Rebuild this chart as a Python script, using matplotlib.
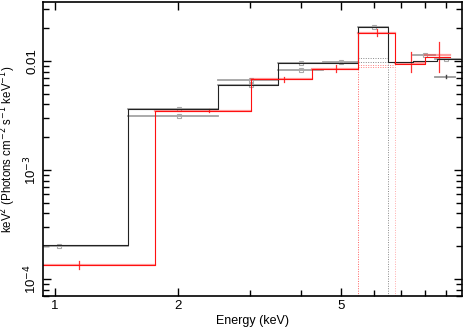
import matplotlib
matplotlib.use("Agg")
import matplotlib.pyplot as plt
import numpy as np
from matplotlib.ticker import FixedLocator, NullFormatter, FixedFormatter

plt.rcParams['font.family'] = ['Liberation Sans', 'DejaVu Sans']

# ---- data ----
# black model steps
k_edges = [0.935, 1.51, 2.505, 3.51, 5.50, 6.51, 7.50, 8.56, 9.87]
k_vals = [2.07e-4, 3.6e-3, 5.98e-3, 9.53e-3, 2.064e-2, 9.85e-3, 1.006e-2, 1.043e-2]

# gray data points (x, y, xlo, xhi)
g_x = [1.023, 2.008, 2.008, 3.004, 3.004, 4.00, 4.00, 5.01, 6.01, 8.01, 9.04]
g_y = [2.02e-4, 3.6e-3, 3.13e-3, 6.76e-3, 5.98e-3, 8.27e-3, 9.53e-3, 9.73e-3, 2.064e-2, 1.135e-2, 1.036e-2]
g_lo = [0.935, 1.51, 1.51, 2.505, 2.505, 3.51, 3.51, 4.52, 5.50, 7.50, 8.47]
g_hi = [1.51, 2.505, 2.505, 3.51, 3.51, 4.52, 5.50, 5.50, 6.51, 8.47, 9.74]

# dark extra point
d_x = [9.04]
d_y = [7.18e-3]
d_lo = [8.47]
d_hi = [9.48]

# red model steps
r_edges = [0.935, 1.76, 3.004, 4.25, 5.50, 6.76, 8.01, 9.21]
r_vals = [1.344e-4, 3.515e-3, 6.79e-3, 8.45e-3, 1.818e-2, 9.39e-3, 1.081e-2]

# red data points
r_x = [1.146, 2.38, 3.63, 4.87, 6.13, 7.39, 8.66]
r_y = [1.344e-4, 3.515e-3, 6.79e-3, 8.45e-3, 1.818e-2, 9.5e-3, 1.135e-2]
r_ylo = [1.23e-4, 3.4e-3, 6.4e-3, 7.9e-3, 1.7e-2, 7.9e-3, 7.9e-3]
r_yhi = [1.47e-4, 3.65e-3, 7.2e-3, 9.1e-3, 1.95e-2, 1.22e-2, 1.5e-2]
r_lo = [0.935, 1.76, 3.004, 4.25, 5.50, 6.76, 8.01]
r_hi = [1.76, 3.004, 4.25, 5.50, 6.76, 8.01, 9.21]

# line components (dotted)
kg_edges = [5.50, 6.51]
kg_vals = [1.059e-2, 9.85e-3]
rg_edges = [5.50, 6.76]
rg_vals = [9.19e-3, 8.87e-3]

YMIN, YMAX = 6.98e-5, 0.0348
XMIN, XMAX = 0.935, 9.87

fig = plt.figure(figsize=(4.63, 3.27), dpi=100)
ax = fig.add_axes([43/463, 31/327, 419/463, 294/327])
ax.set_xscale('log')
ax.set_yscale('log')

def step(ax, edges, vals, **kw):
    xs = []
    ys = []
    for i, v in enumerate(vals):
        xs += [edges[i], edges[i+1]]
        ys += [v, v]
    ax.plot(xs, ys, **kw)

# gaussian components
for val in kg_vals:
    ax.plot(kg_edges, [val, val], ls=(0, (1, 1.5)), color='#888888', lw=0.7)
for val in rg_vals:
    ax.plot(rg_edges, [val, val], ls=(0, (1, 1.5)), color='#ff8080', lw=0.7)
ax.plot([kg_edges[1], kg_edges[1]], [YMIN, kg_vals[0]], ls=(0, (1, 1.5)), color='#888888', lw=0.7)
ax.plot([rg_edges[0], rg_edges[0]], [YMIN, rg_vals[0]], ls=(0, (1, 1.5)), color='#ff6060', lw=0.7)
ax.plot([rg_edges[1], rg_edges[1]], [YMIN, rg_vals[0]], ls=(0, (1, 1.5)), color='#ffaaaa', lw=0.7)

# gray data
for x, y, lo, hi in zip(g_x, g_y, g_lo, g_hi):
    ax.plot([lo, hi], [y, y], color='#999999', lw=1.3, alpha=0.9)
ax.plot(g_x, g_y, ls='none', marker='s', ms=3, mfc='none', mec='#aaaaaa', mew=0.8)
for x, y, lo, hi in zip(d_x, d_y, d_lo, d_hi):
    ax.plot([lo, hi], [y, y], color='#999999', lw=1.3)
    ax.plot([x, x], [y*0.97, y*1.03], color='#444444', lw=1)

# red data
for x, y, ylo, yhi, lo, hi in zip(r_x, r_y, r_ylo, r_yhi, r_lo, r_hi):
    ax.plot([lo, hi], [y, y], color='#ff4040', lw=1.6, alpha=0.5)
    ax.plot([x, x], [ylo, yhi], color='#ff3030', lw=0.9)

# models
step(ax, k_edges, k_vals, color='#222222', lw=0.8)
step(ax, r_edges, r_vals, color='#ff1010', lw=0.8)

ax.set_xlim(XMIN, XMAX)
ax.set_ylim(YMIN, YMAX)

ax.xaxis.set_major_locator(FixedLocator([1, 2, 5]))
ax.xaxis.set_major_formatter(FixedFormatter(['1', '2', '5']))
ax.xaxis.set_minor_locator(FixedLocator([3, 4, 6, 7, 8, 9]))
ax.xaxis.set_minor_formatter(NullFormatter())
ax.yaxis.set_major_locator(FixedLocator([1e-4, 1e-3, 1e-2]))
ax.yaxis.set_major_formatter(FixedFormatter([r'10$^{-4}$', r'10$^{-3}$', '0.01']))
ymin_ticks = [m * 10.0**e for e in (-5, -4, -3, -2) for m in range(2, 10)]
ax.yaxis.set_minor_locator(FixedLocator([t for t in ymin_ticks if YMIN < t < YMAX]))
ax.yaxis.set_minor_formatter(NullFormatter())

ax.tick_params(which='both', direction='in', top=True, right=True, width=1.0, labelsize=9.5, pad=3)
ax.tick_params(which='major', length=6)
ax.tick_params(which='minor', length=4)
for lab in ax.get_yticklabels():
    lab.set_rotation(90)
    lab.set_va('center')
for sp in ax.spines.values():
    sp.set_linewidth(1.2)

ax.set_xlabel('Energy (keV)', fontsize=9, labelpad=2)
ax.set_ylabel('keV$^2$ (Photons cm$^{-2}$ s$^{-1}$ keV$^{-1}$)', fontsize=8.3, labelpad=3)

fig.savefig('out.png', dpi=100)
